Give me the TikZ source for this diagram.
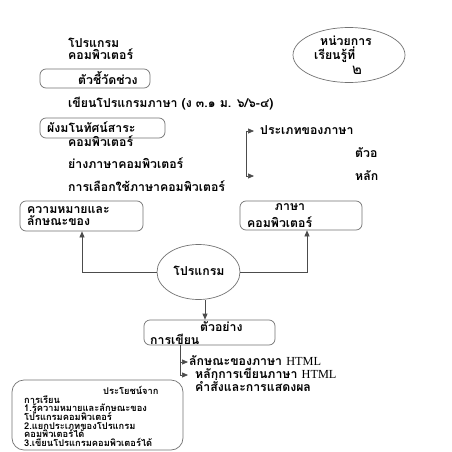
\documentclass[tikz,border=0pt]{standalone}
\usepackage{fontspec}
\setmainfont{Loma}[Script=Thai]
\newfontfamily\htmlfont{Liberation Serif}
\usetikzlibrary{positioning,arrows.meta,shapes.geometric}
\newcommand\tightlines{\lineskiplimit=-20pt\relax}

\begin{document}
\begin{tikzpicture}[x=1pt, y=-1pt,
  every node/.style={font=\bfseries\fontsize{12.3}{12.5}\selectfont, inner sep=0pt},
  txt/.style={anchor=west, align=left},
  box/.style={draw=black!55, rounded corners=6pt, line width=0.7pt},
  oval/.style={ellipse, draw=black!55, line width=0.7pt},
  link/.style={draw=black!70, line width=0.7pt},
  tip/.style={link, -{Triangle[length=6pt, width=5pt]}}]

  \useasboundingbox[fill=white] (0,0) rectangle (452,452);

  % top part
  \node[txt, align=left] (title) at (68,49) {โปรแกรม\\คอมพิวเตอร์};
  \node[box, minimum width=110pt, minimum height=19pt] (kpi) at (95,78.5) {};
  \node[txt] (kpitxt) at (78,78) {ตัวชี้วัดช่วง};
  \node[oval, minimum width=112pt, minimum height=55pt] (unit) at (349,55) {};
  \node[txt] (unit1) at (320,41) {หน่วยการ};
  \node[txt] (unit2) at (314,55) {เรียนรู้ที่};
  \node[txt, font=\fontsize{15}{15}\selectfont] (unitno) at (352,70) {๒};

  \node[txt] (goal) at (68,104) {เขียนโปรแกรมภาษา (ง ๓.๑ ม. ๖/๖-๔)};
  \node[box, minimum width=125pt, minimum height=20pt] (map) at (102.5,128) {};
  \node[txt] (maptxt) at (47,127) {ผังมโนทัศน์สาระ};
  \node[txt] (line1) at (68,141) {คอมพิวเตอร์};
  \node[txt] (line2) at (68,163) {ย่างภาษาคอมพิวเตอร์};
  \node[txt] (line3) at (68,186) {การเลือกใช้ภาษาคอมพิวเตอร์};

  \coordinate (ta) at (246,131);
  \coordinate (tb) at (246,176);
  \draw[link] (ta) -- (tb);
  \draw[tip] (ta) -- ++(8,0);
  \draw[tip] (tb) -- ++(8,0);
  \node[txt] (kind) at (260,130) {ประเภทของภาษา};
  \node[txt] (ex) at (355,153) {ตัวอ};
  \node[txt] (main) at (355,176) {หลัก};

  % middle part
  \node[box, minimum width=123pt, minimum height=30pt] (mean) at (81.5,216) {};
  \node[txt] (meantxt) at (27,216) {ความหมายและ\\ลักษณะของ};
  \node[box, minimum width=122pt, minimum height=29pt] (lang) at (301,215.5) {};
  \node[anchor=north, align=center] (langtxt) at (290,203.5) {ภาษา};
  \node[txt] (langtxt2) at (247,222) {คอมพิวเตอร์};

  \node[oval, minimum width=83pt, minimum height=55pt] (prog) at (198.5,272) {};
  \node (progtxt) at (199,271) {โปรแกรม};

  \draw[tip] (prog.west) -| (mean.south -| 82,0);
  \draw[tip] (prog.east) -| (lang.south -| 307,0);

  \node[box, minimum width=131pt, minimum height=25pt] (sample) at (209.5,332.5) {};
  \node[txt] (sample1) at (200,327) {ตัวอย่าง};
  \node[txt] (sample2) at (150,339) {การเขียน};
  \draw[tip] (prog.south -| 205,0) -- (sample.north -| 205,0);

  % bottom part
  \coordinate (ba) at (180,345);
  \coordinate (bb) at (180,362);
  \coordinate (bc) at (180,375);
  \draw[link] (ba) -- (bc);
  \draw[tip] (bb) -- ++(8,0);
  \draw[tip] (bc) -- ++(8,0);
  \node[txt] (h1) at (189,361) {ลักษณะของภาษา {\htmlfont\mdseries HTML}};
  \node[txt] (h2) at (195,373) {หลักการเขียนภาษา {\htmlfont\mdseries HTML}};
  \node[txt] (h3) at (195,385) {คำสั่งและการแสดงผล};

  \node[box, rounded corners=12pt, minimum width=171pt, minimum height=70pt] (use) at (97.5,415) {};
  \node[txt, font=\bfseries\fontsize{9.3}{8.6}\selectfont\tightlines] (usetxt) at (24,416.5)
    {\hspace*{79pt}ประโยชน์จาก\\การเรียน\\1.รู้ความหมายและลักษณะของ\\โปรแกรมคอมพิวเตอร์\\2.แยกประเภทของโปรแกรม\\คอมพิวเตอร์ได้\\3.เขียนโปรแกรมคอมพิวเตอร์ได้};
\end{tikzpicture}
\end{document}
